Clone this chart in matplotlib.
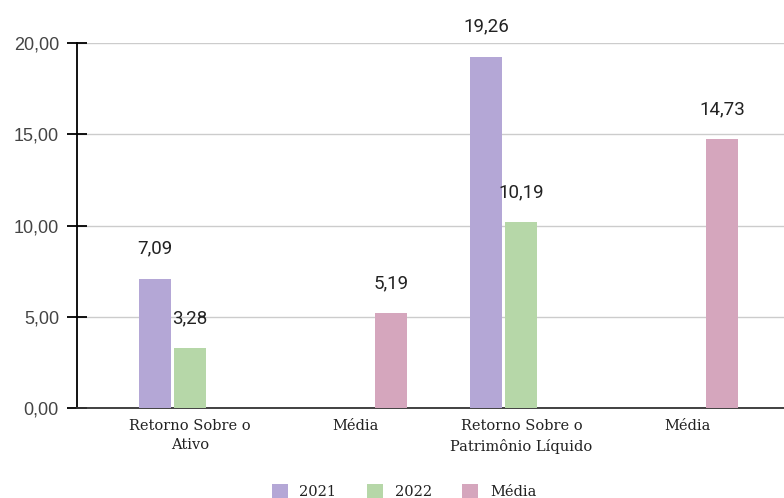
import matplotlib
matplotlib.use("Agg")
import matplotlib.pyplot as plt
import numpy as np

categories = ["Retorno Sobre o\nAtivo", "Média", "Retorno Sobre o\nPatrimônio Líquido", "Média"]
series_names = ["2021", "2022", "Média"]
vals_2021 = [7.09, None, 19.26, None]
vals_2022 = [3.28, None, 10.19, None]
vals_media = [None, 5.19, None, 14.73]
colors = ["#b4a7d6", "#b6d7a8", "#d5a6bd"]
yticks = [0, 5, 10, 15, 20]

def fmt(v):
    return f"{v:.2f}".replace(".", ",")

fig = plt.figure(figsize=(7.84, 4.98), dpi=100)
ax = fig.add_axes([77/784, 1 - 408/498, 1 - 77/784, (408 - 43)/498])

x = np.arange(len(categories))
width = 0.193
step = 0.211
all_series = [vals_2021, vals_2022, vals_media]
handles = []
for i, (vals, col, name) in enumerate(zip(all_series, colors, series_names)):
    off = (i - 1) * step
    xs = [xi + off for xi, v in zip(x, vals) if v is not None]
    vs = [v for v in vals if v is not None]
    b = ax.bar(xs, vs, width=width, color=col, label=name, zorder=3)
    handles.append(b)
    for xx, vv in zip(xs, vs):
        ax.annotate(fmt(vv), (xx, vv), xytext=(0, 15), textcoords="offset points",
                    ha="center", va="bottom", fontsize=13.5, family="Roboto",
                    color="#222222", zorder=4, annotation_clip=False)

ax.set_xlim(-0.682, 3.585)
ax.set_ylim(0, 20)
ax.set_yticks(yticks)
ax.set_yticklabels([fmt(v) for v in yticks], family="Liberation Sans", fontsize=13, color="#444444")
ax.yaxis.grid(True, color="#cccccc", linewidth=1, zorder=0)
ax.set_axisbelow(True)
ax.tick_params(axis="y", direction="inout", length=14, width=1.3, color="black", pad=6)
ax.set_xticks(x)
ax.set_xticklabels(categories, family="DejaVu Serif", fontsize=10.5, color="#222222",
                   linespacing=1.45)
ax.tick_params(axis="x", length=0, pad=8)
for s in ["top", "right"]:
    ax.spines[s].set_visible(False)
ax.spines["left"].set_color("black")
ax.spines["left"].set_linewidth(1.3)
ax.spines["bottom"].set_color("#333333")
ax.spines["bottom"].set_linewidth(1.3)

leg = fig.legend(handles=handles, labels=series_names, loc="lower center",
                 bbox_to_anchor=(404/784, -0.028), ncol=3, frameon=False,
                 prop={"family": "DejaVu Serif", "size": 10.5},
                 handlelength=1.1, handleheight=1.1, columnspacing=2.1, handletextpad=0.8)
for t in leg.get_texts():
    t.set_color("#222222")

fig.savefig("out.png", dpi=100)
